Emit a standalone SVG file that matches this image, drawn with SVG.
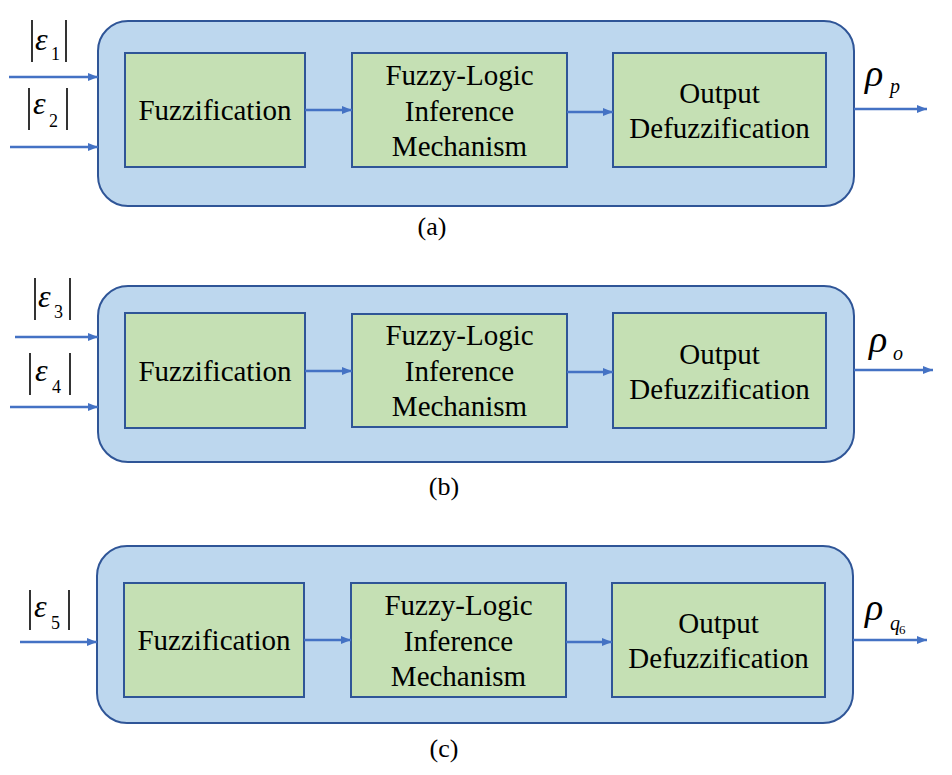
<svg xmlns="http://www.w3.org/2000/svg" width="952" height="775" viewBox="0 0 952 775" font-family="Liberation Serif, Times New Roman, DejaVu Serif, serif">
<defs>
<marker id="ah" viewBox="0 0 10 8" refX="10" refY="4" markerWidth="10" markerHeight="8" markerUnits="userSpaceOnUse" orient="auto">
<path d="M0,0 L10,4 L0,8 z" fill="#4472C4"/>
</marker>
</defs>
<style>
.outer{fill:#BDD7EE;stroke:#2F5597;stroke-width:2}
.inner{fill:#C5E0B4;stroke:#2F5597;stroke-width:2}
.arr{stroke:#4472C4;stroke-width:2.5;fill:none;marker-end:url(#ah)}
.t{font-size:29px;text-anchor:middle;fill:#000}
.cap{font-size:26px;text-anchor:middle;fill:#000}
.bar{stroke:#000;stroke-width:1.6}
</style>
<g id="panel-a">
<rect class="outer" x="98" y="21" width="756" height="185" rx="30"/>
<g id="a-fuzz"><rect class="inner" x="125" y="53" width="180" height="114"/><text class="t" x="215" y="120">Fuzzification</text></g>
<g id="a-infer"><rect class="inner" x="352" y="53" width="215" height="114"/><text class="t" x="459.5" y="85">Fuzzy-Logic</text><text class="t" x="459.5" y="121">Inference</text><text class="t" x="459.5" y="156">Mechanism</text></g>
<g id="a-defuzz"><rect class="inner" x="613" y="53" width="213" height="114"/><text class="t" x="719.5" y="103">Output</text><text class="t" x="719.5" y="138">Defuzzification</text></g>
<text class="cap" x="432" y="235">(a)</text>
</g>
<g id="panel-b">
<rect class="outer" x="98" y="286" width="756" height="176" rx="30"/>
<g id="b-fuzz"><rect class="inner" x="125" y="313" width="180" height="115"/><text class="t" x="215" y="381">Fuzzification</text></g>
<g id="b-infer"><rect class="inner" x="352" y="314" width="215" height="113"/><text class="t" x="459.5" y="345">Fuzzy-Logic</text><text class="t" x="459.5" y="381">Inference</text><text class="t" x="459.5" y="416">Mechanism</text></g>
<g id="b-defuzz"><rect class="inner" x="613" y="313" width="213" height="115"/><text class="t" x="719.5" y="364">Output</text><text class="t" x="719.5" y="399">Defuzzification</text></g>
<text class="cap" x="444" y="495">(b)</text>
</g>
<g id="panel-c">
<rect class="outer" x="97" y="546" width="756" height="177" rx="30"/>
<g id="c-fuzz"><rect class="inner" x="124" y="583" width="180" height="114"/><text class="t" x="214" y="650">Fuzzification</text></g>
<g id="c-infer"><rect class="inner" x="351" y="583" width="215" height="114"/><text class="t" x="458.5" y="615">Fuzzy-Logic</text><text class="t" x="458.5" y="651">Inference</text><text class="t" x="458.5" y="686">Mechanism</text></g>
<g id="c-defuzz"><rect class="inner" x="612" y="583" width="213" height="114"/><text class="t" x="718.5" y="633">Output</text><text class="t" x="718.5" y="668">Defuzzification</text></g>
<text class="cap" x="444" y="757">(c)</text>
</g>
<g id="connectors">
<line class="arr" x1="9" y1="77" x2="98" y2="77"/>
<line class="arr" x1="10" y1="147" x2="98" y2="147"/>
<line class="arr" x1="305" y1="110" x2="352" y2="110"/>
<line class="arr" x1="567" y1="112" x2="613" y2="112"/>
<line class="arr" x1="854" y1="109" x2="927" y2="109"/>
<line class="arr" x1="15" y1="337" x2="98" y2="337"/>
<line class="arr" x1="10" y1="407" x2="98" y2="407"/>
<line class="arr" x1="305" y1="371" x2="352" y2="371"/>
<line class="arr" x1="567" y1="372" x2="613" y2="372"/>
<line class="arr" x1="854" y1="370" x2="933" y2="370"/>
<line class="arr" x1="20" y1="642" x2="97" y2="642"/>
<line class="arr" x1="304" y1="640" x2="351" y2="640"/>
<line class="arr" x1="566" y1="642" x2="612" y2="642"/>
<line class="arr" x1="853" y1="640" x2="927" y2="640"/>
</g>
<g id="labels" fill="#000">
<g id="eps1"><line class="bar" x1="32" y1="20" x2="32" y2="62"/><line class="bar" x1="66" y1="20" x2="66" y2="62"/><text x="35" y="50" font-size="32" font-style="italic">ε</text><text x="51" y="60" font-size="18">1</text></g>
<g id="eps2"><line class="bar" x1="29" y1="88" x2="29" y2="130"/><line class="bar" x1="67" y1="88" x2="67" y2="130"/><text x="33" y="114" font-size="32" font-style="italic">ε</text><text x="49" y="127" font-size="18">2</text></g>
<g id="eps3"><line class="bar" x1="35" y1="278" x2="35" y2="320"/><line class="bar" x1="70" y1="278" x2="70" y2="320"/><text x="38" y="307" font-size="32" font-style="italic">ε</text><text x="54" y="318" font-size="18">3</text></g>
<g id="eps4"><line class="bar" x1="30" y1="353" x2="30" y2="395"/><line class="bar" x1="70" y1="353" x2="70" y2="395"/><text x="35" y="381" font-size="32" font-style="italic">ε</text><text x="52" y="393" font-size="18">4</text></g>
<g id="eps5"><line class="bar" x1="30" y1="590" x2="30" y2="630"/><line class="bar" x1="69" y1="590" x2="69" y2="630"/><text x="34" y="617" font-size="32" font-style="italic">ε</text><text x="51" y="629" font-size="18">5</text></g>
<g id="rho-p"><text x="865" y="86" font-size="38" font-style="italic">ρ</text><text x="890" y="93" font-size="20" font-style="italic">p</text></g>
<g id="rho-o"><text x="869" y="352" font-size="38" font-style="italic">ρ</text><text x="893" y="360" font-size="20" font-style="italic">o</text></g>
<g id="rho-q6"><text x="865" y="620" font-size="38" font-style="italic">ρ</text><text x="890" y="630" font-size="20" font-style="italic">q</text><text x="899" y="634" font-size="13">6</text></g>
</g>
</svg>
